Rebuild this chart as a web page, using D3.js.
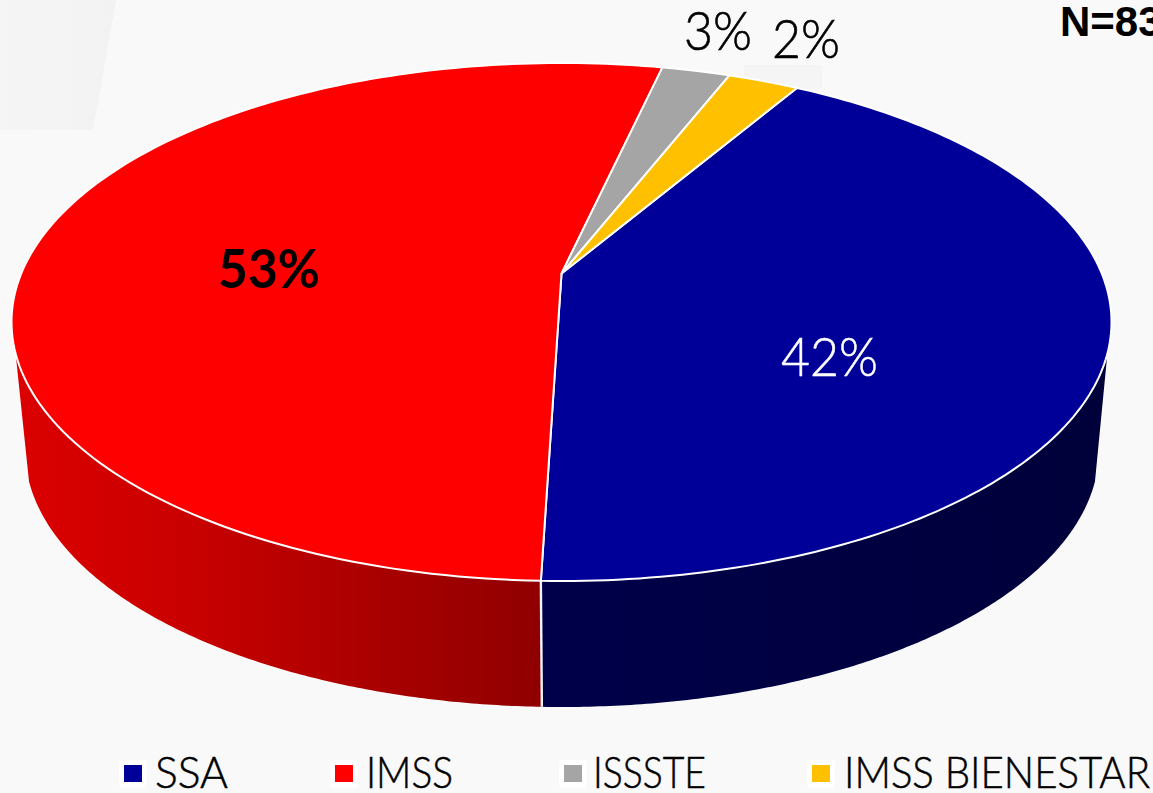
<!DOCTYPE html>
<html><head><meta charset="utf-8">
<script src="https://cdn.jsdelivr.net/npm/d3@7/dist/d3.min.js"></script>
<style>html,body{margin:0;padding:0;background:#f9f9f9;overflow:hidden}svg{display:block}</style>
</head><body><svg id="c" width="1153" height="793"></svg>
<script>
const categories = ["SSA","IMSS","ISSSTE","IMSS BIENESTAR"];
const sliceValues = [42.05,53.05,2.4,2.5];
const percentLabels = ["42%","53%","3%","2%"];
const sampleSize = "N=83";

const colors = ["#000099","#ff0000","#a5a5a5","#ffc000"];
const W=1153,H=793;
const svg=d3.select("#c");
const defs=svg.append("defs");
const line=d3.line();

// faint background blocks
svg.append("rect").attr("width",W).attr("height",H).attr("fill","#f9f9f9");
const bg=defs.append("linearGradient").attr("id","bg").attr("x1",0).attr("x2",1).attr("y1",0).attr("y2",0);
bg.append("stop").attr("offset",0).attr("stop-color","#f5f5f5");
bg.append("stop").attr("offset",1).attr("stop-color","#f2f2f2");
svg.append("path").attr("fill","url(#bg)").attr("d",line([[0,0],[116,0],[93,130],[0,130]])+"Z");
svg.append("rect").attr("x",744).attr("y",65).attr("width",78).attr("height",24).attr("fill","#f5f5f5");

// perspective disc: the pie centre sits behind the ellipse centre
const b=0.187, gamma=Math.sqrt(1-b*b);
const topFace={cx:561.5,cy:322,rx:550,ry:259};
const baseFace={cx:562,cy:450,rx:537,ry:257};
const project=(e,a,r=1)=>{
  const u=r*Math.sin(a), v=r*Math.cos(a), d=1+b*v;
  return [e.cx+e.rx*u*gamma/d, e.cy-e.ry*(v+b)/d];
};
const deg=d=>d*Math.PI/180;
const start=deg(30.4);
const arcs=d3.pie().sort(null).value(d=>d).startAngle(start).endAngle(start+2*Math.PI)(sliceValues);
const samples=(a0,a1)=>d3.range(0,1.0001,1/160).map(t=>a0+(a1-a0)*t);

// side walls
const redWall=defs.append("linearGradient").attr("id","redWall").attr("gradientUnits","userSpaceOnUse")
  .attr("x1",12).attr("x2",541).attr("y1",0).attr("y2",0);
[[0,"#dc0000"],[0.35,"#c80000"],[0.7,"#a80000"],[1,"#900000"]].forEach(s=>redWall.append("stop").attr("offset",s[0]).attr("stop-color",s[1]));
const blueWall=defs.append("linearGradient").attr("id","blueWall").attr("gradientUnits","userSpaceOnUse")
  .attr("x1",541).attr("x2",1112).attr("y1",0).attr("y2",0);
[[0,"#00004a"],[1,"#00003a"]].forEach(s=>blueWall.append("stop").attr("offset",s[0]).attr("stop-color",s[1]));

const seam=arcs[0].endAngle;
const walls=[
  {a0:deg(107.6),a1:seam,fill:"url(#blueWall)"},
  {a0:seam,a1:deg(252.4),fill:"url(#redWall)"}
];
svg.selectAll("path.wall").data(walls).join("path").attr("class","wall")
  .attr("fill",d=>d.fill)
  .attr("d",d=>{
    const t=samples(d.a0,d.a1);
    return line(t.map(a=>project(topFace,a)).concat(t.slice().reverse().map(a=>project(baseFace,a))))+"Z";
  });
svg.append("path").attr("fill","none").attr("stroke","#f4f4f8").attr("stroke-width",2.4)
  .attr("d",line([project(topFace,seam),project(baseFace,seam)]));

// top face
svg.selectAll("path.slice").data(arcs).join("path").attr("class","slice")
  .attr("fill",(d,i)=>colors[i]).attr("stroke","#fff").attr("stroke-width",2).attr("stroke-linejoin","round")
  .attr("d",d=>line([project(topFace,0,0)].concat(samples(d.startAngle,d.endAngle).map(a=>project(topFace,a))))+"Z");

// percentage labels
const labelBoxes=[
 {x:781,y:376,w:97,fill:"#fff",weight:300,extra:0.5},
 {x:218,y:288,w:102,fill:"#000",weight:700,extra:0},
 {x:684,y:50,w:68,fill:"#000",weight:300,extra:0.6},
 {x:772,y:58,w:68,fill:"#000",weight:300,extra:0.6}
];
svg.selectAll("text.pct").data(percentLabels).join("text").attr("class","pct")
  .attr("x",(d,i)=>labelBoxes[i].x).attr("y",(d,i)=>labelBoxes[i].y)
  .attr("textLength",(d,i)=>labelBoxes[i].w).attr("lengthAdjust","spacingAndGlyphs")
  .attr("fill",(d,i)=>labelBoxes[i].fill).attr("font-weight",(d,i)=>labelBoxes[i].weight)
  .attr("stroke",(d,i)=>labelBoxes[i].fill).attr("stroke-width",(d,i)=>labelBoxes[i].extra)
  .attr("font-family","Lato, 'Open Sans', sans-serif").attr("font-size",54)
  .text(d=>d);

svg.append("text").attr("x",1060).attr("y",36).attr("font-family","'Liberation Sans',Arial,sans-serif")
  .attr("font-weight",700).attr("font-size",42).attr("fill","#000").text(sampleSize);

// legend
const legendX=[124,335,564,812];
const legendTextX=[155,366,593,844];
const legendTextW=[73,87,113,306];
const lg=svg.selectAll("g.lg").data(categories).join("g").attr("class","lg");
lg.append("rect").attr("x",(d,i)=>legendX[i]-5).attr("y",760).attr("width",28).attr("height",28).attr("rx",4).attr("fill","#fff");
lg.append("rect").attr("x",(d,i)=>legendX[i]).attr("y",765).attr("width",18).attr("height",17).attr("fill",(d,i)=>colors[i]);
lg.append("text").attr("x",(d,i)=>legendTextX[i]).attr("y",788)
  .attr("textLength",(d,i)=>legendTextW[i]).attr("lengthAdjust","spacingAndGlyphs")
  .attr("font-family","Lato, 'Open Sans', sans-serif").attr("font-weight",300).attr("font-size",43)
  .attr("fill","#000").attr("stroke","#000").attr("stroke-width",0.5)
  .text(d=>d);
</script></body></html>
